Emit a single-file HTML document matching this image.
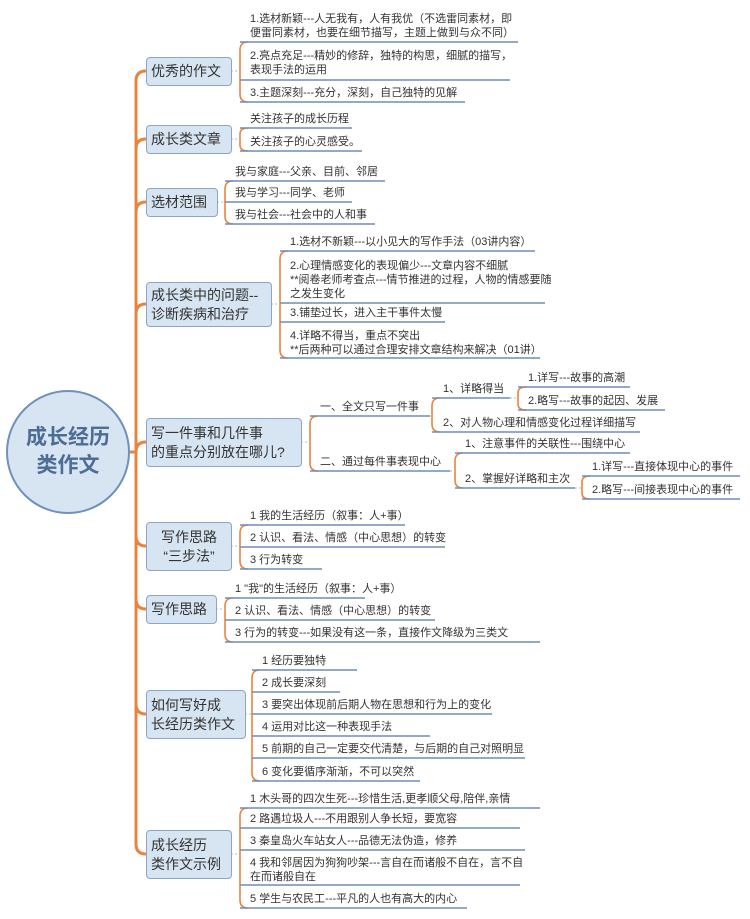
<!DOCTYPE html>
<html><head><meta charset="utf-8"><style>
body{margin:0;width:750px;height:919px;background:#fff;position:relative;overflow:hidden;font-family:"Liberation Sans","Noto Sans CJK SC",sans-serif;}
.b{position:absolute;background:#d7e4f1;border:1.5px solid #8aa6c8;border-radius:4px;font-size:14px;color:#333;box-sizing:border-box;padding:0 4px;display:flex;align-items:center;line-height:19px;white-space:nowrap;overflow:visible;}
.t{position:absolute;font-size:11px;color:#333;line-height:14px;white-space:nowrap;}
.c{position:absolute;left:6px;top:390px;width:124px;height:124px;border-radius:50%;background:#d7e4f1;border:2.5px solid #6f91bd;box-sizing:border-box;display:flex;align-items:center;justify-content:center;text-align:center;font-size:21px;font-weight:bold;color:#4d6d96;line-height:28px;}
svg{position:absolute;left:0;top:0;}
</style></head><body>
<svg width="750" height="919">
<g fill="none" stroke="#e8843e" stroke-width="3">
<path d="M130,452 L136,452"/>
<path d="M136,452 L136,81 Q136,71 146,71"/>
<path d="M136,452 L136,149 Q136,139 146,139"/>
<path d="M136,452 L136,212 Q136,202 146,202"/>
<path d="M136,452 L136,314 Q136,304 146,304"/>
<path d="M136,452 L136,452 Q136,442 146,442"/>
<path d="M136,452 L136,536 Q136,546 146,546"/>
<path d="M136,452 L136,599 Q136,609 146,609"/>
<path d="M136,452 L136,704 Q136,714 146,714"/>
<path d="M136,452 L136,844 Q136,854 146,854"/>
</g>
<g fill="none" stroke="#e8843e" stroke-width="1.6">
<path d="M248,42 Q240,42 240,50 L240,94 Q240,102 248,102"/>
<path d="M248,128 Q240,128 240,134 L240,145 Q240,151 248,151"/>
<path d="M233,181 Q225,181 225,189 L225,216 Q225,224 233,224"/>
<path d="M288,251 Q280,251 280,259 L280,350 Q280,358 288,358"/>
<path d="M318,416 Q310,416 310,424 L310,463 Q310,471 318,471"/>
<path d="M440,398 Q432,398 432,406 L432,424 Q432,432 440,432"/>
<path d="M526,387 Q518,387 518,393 L518,404 Q518,410 526,410"/>
<path d="M463,453 Q455,453 455,461 L455,480 Q455,488 463,488"/>
<path d="M590,476 Q582,476 582,482 L582,493 Q582,499 590,499"/>
<path d="M248,525 Q240,525 240,533 L240,561 Q240,569 248,569"/>
<path d="M233,598 Q225,598 225,606 L225,634 Q225,642 233,642"/>
<path d="M260,670 Q252,670 252,678 L252,773 Q252,781 260,781"/>
<path d="M248,808 Q240,808 240,816 L240,900 Q240,908 248,908"/>
</g>
<g stroke="#bbb" stroke-width="1" stroke-dasharray="2,2">
<path d="M231,71 H240 M231,139 H240 M217,202 H225 M271,304 H280 M301,442 H310 M430,416 H432 M510,398 H518 M450,471 H455 M575,488 H582 M231,546 H240 M216,609 H225 M245,714 H252 M231,854 H240"/>
</g>
<g stroke="#6f8db5" stroke-width="1.5">
<path d="M240,42 H518 M240,80 H510 M240,102 H465"/>
<path d="M240,128 H352 M240,151 H362"/>
<path d="M225,181 H385 M225,202 H352 M225,224 H375"/>
<path d="M280,251 H535 M280,303 H545 M280,322 H445 M280,358 H540"/>
<path d="M310,416 H430 M310,471 H450"/>
<path d="M432,398 H510 M432,432 H640"/>
<path d="M518,387 H630 M518,410 H665"/>
<path d="M455,453 H630 M455,488 H575"/>
<path d="M582,476 H740 M582,499 H740"/>
<path d="M240,525 H405 M240,547 H445 M240,569 H322"/>
<path d="M225,598 H365 M225,620 H435 M225,642 H540"/>
<path d="M252,670 H357 M252,692 H340 M252,714 H492 M252,736 H430 M252,758 H525 M252,781 H420"/>
<path d="M240,808 H540 M240,828 H520 M240,850 H525 M240,885 H520 M240,908 H467"/>
</g>
</svg>
<div class="c">成长经历<br>类作文</div>
<div class="b" style="left:146px;top:57px;width:86px;height:29px">优秀的作文</div>
<div class="b" style="left:146px;top:125px;width:86px;height:29px">成长类文章</div>
<div class="b" style="left:146px;top:188px;width:72px;height:29px">选材范围</div>
<div class="b" style="left:146px;top:282px;width:126px;height:45px">成长类中的问题--<br>诊断疾病和治疗</div>
<div class="b" style="left:146px;top:418px;width:156px;height:49px">写一件事和几件事<br>的重点分别放在哪儿?</div>
<div class="b" style="left:146px;top:522px;width:86px;height:49px;justify-content:center;text-align:center">写作思路<br>“三步法”</div>
<div class="b" style="left:146px;top:595px;width:71px;height:29px">写作思路</div>
<div class="b" style="left:146px;top:690px;width:100px;height:49px">如何写好成<br>长经历类作文</div>
<div class="b" style="left:146px;top:830px;width:86px;height:49px">成长经历<br>类作文示例</div>

<div class="t" style="left:250px;top:12px">1.选材新颖---人无我有，人有我优（不选雷同素材，即<br>便雷同素材，也要在细节描写，主题上做到与众不同）</div>
<div class="t" style="left:250px;top:49px">2.亮点充足---精妙的修辞，独特的构思，细腻的描写，<br>表现手法的运用</div>
<div class="t" style="left:250px;top:86px">3.主题深刻---充分，深刻，自己独特的见解</div>
<div class="t" style="left:250px;top:112px">关注孩子的成长历程</div>
<div class="t" style="left:250px;top:135px">关注孩子的心灵感受。</div>
<div class="t" style="left:235px;top:165px">我与家庭---父亲、目前、邻居</div>
<div class="t" style="left:235px;top:186px">我与学习---同学、老师</div>
<div class="t" style="left:235px;top:208px">我与社会---社会中的人和事</div>
<div class="t" style="left:290px;top:235px">1.选材不新颖---以小见大的写作手法（03讲内容）</div>
<div class="t" style="left:290px;top:259px">2.心理情感变化的表现偏少---文章内容不细腻<br>**阅卷老师考查点---情节推进的过程，人物的情感要随<br>之发生变化</div>
<div class="t" style="left:290px;top:306px">3.铺垫过长，进入主干事件太慢</div>
<div class="t" style="left:290px;top:329px">4.详略不得当，重点不突出<br>**后两种可以通过合理安排文章结构来解决（01讲）</div>
<div class="t" style="left:320px;top:400px">一、全文只写一件事</div>
<div class="t" style="left:320px;top:455px">二、通过每件事表现中心</div>
<div class="t" style="left:443px;top:382px">1、详略得当</div>
<div class="t" style="left:443px;top:416px">2、对人物心理和情感变化过程详细描写</div>
<div class="t" style="left:528px;top:371px">1.详写---故事的高潮</div>
<div class="t" style="left:528px;top:394px">2.略写---故事的起因、发展</div>
<div class="t" style="left:465px;top:437px">1、注意事件的关联性---围绕中心</div>
<div class="t" style="left:465px;top:472px">2、掌握好详略和主次</div>
<div class="t" style="left:592px;top:460px">1.详写---直接体现中心的事件</div>
<div class="t" style="left:592px;top:483px">2.略写---间接表现中心的事件</div>
<div class="t" style="left:250px;top:509px">1 我的生活经历（叙事：人+事）</div>
<div class="t" style="left:250px;top:531px">2 认识、看法、情感（中心思想）的转变</div>
<div class="t" style="left:250px;top:553px">3 行为转变</div>
<div class="t" style="left:235px;top:582px">1 "我"的生活经历（叙事：人+事）</div>
<div class="t" style="left:235px;top:604px">2 认识、看法、情感（中心思想）的转变</div>
<div class="t" style="left:235px;top:626px">3 行为的转变---如果没有这一条，直接作文降级为三类文</div>
<div class="t" style="left:262px;top:654px">1 经历要独特</div>
<div class="t" style="left:262px;top:676px">2 成长要深刻</div>
<div class="t" style="left:262px;top:698px">3 要突出体现前后期人物在思想和行为上的变化</div>
<div class="t" style="left:262px;top:720px">4 运用对比这一种表现手法</div>
<div class="t" style="left:262px;top:742px">5 前期的自己一定要交代清楚，与后期的自己对照明显</div>
<div class="t" style="left:262px;top:765px">6 变化要循序渐渐，不可以突然</div>
<div class="t" style="left:250px;top:792px">1 木头哥的四次生死---珍惜生活,更孝顺父母,陪伴,亲情</div>
<div class="t" style="left:250px;top:812px">2 路遇垃圾人---不用跟别人争长短，要宽容</div>
<div class="t" style="left:250px;top:834px">3 秦皇岛火车站女人---品德无法伪造，修养</div>
<div class="t" style="left:250px;top:856px">4 我和邻居因为狗狗吵架---言自在而诸般不自在，言不自<br>在而诸般自在</div>
<div class="t" style="left:250px;top:892px">5 学生与农民工---平凡的人也有高大的内心</div>
</body></html>
